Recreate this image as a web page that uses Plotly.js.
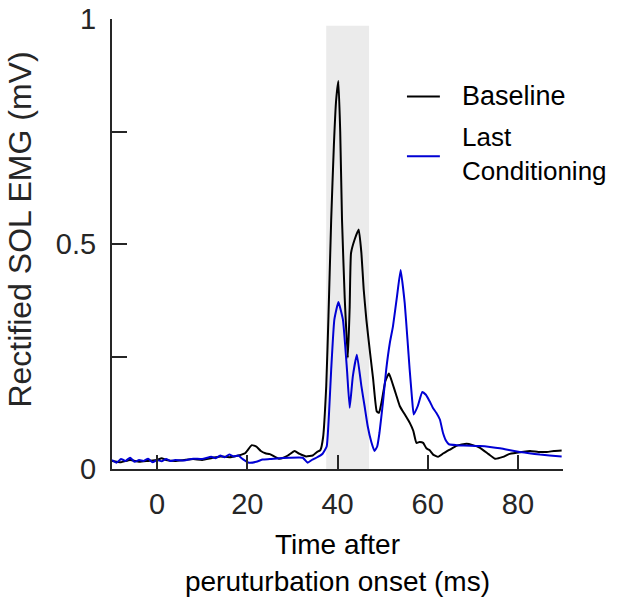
<!DOCTYPE html>
<html>
<head>
<meta charset="utf-8">
<script src="https://cdn.plot.ly/plotly-3.0.1.min.js"></script>
<style>html,body{margin:0;padding:0;background:#fff;}#chart{width:623px;height:604px;}</style>
</head>
<body>
<div id="chart"></div>
<script>
// Baseline series (time in ms, EMG in mV)
var timeBaseline = [-10,-8,-6,-4,-2,0,1,2,4,6,8,10,12,14,16,18,19.5,21,22,23,24,25,27,28,29,30.5,31.5,33,34.5,35.5,36.2,36.8,37.5,38,38.6,39.2,39.7,40.2,40.6,41,41.6,42.3,42.7,43,43.8,44.7,45.3,45.8,46.4,47.2,47.9,48.7,49.2,49.8,50.6,51.4,52.2,53,53.8,54.5,55.3,56,56.8,57.5,58.2,59,59.7,60.4,61.2,62.3,63.5,64.9,66.5,68.6,70,71.6,73.5,74.9,76.7,78,79.7,82.7,84.5,86.4,88,89.7];
var emgBaseline = [0.018,0.015,0.02,0.016,0.018,0.02,0.024,0.02,0.018,0.02,0.022,0.02,0.024,0.028,0.026,0.03,0.035,0.053,0.05,0.04,0.035,0.033,0.023,0.025,0.03,0.04,0.034,0.028,0.03,0.038,0.042,0.07,0.184,0.34,0.554,0.72,0.82,0.862,0.75,0.554,0.38,0.247,0.36,0.48,0.51,0.532,0.48,0.4,0.332,0.26,0.2,0.128,0.125,0.15,0.195,0.212,0.19,0.165,0.14,0.128,0.115,0.103,0.085,0.058,0.06,0.058,0.046,0.042,0.032,0.027,0.035,0.043,0.052,0.056,0.053,0.047,0.033,0.023,0.027,0.033,0.036,0.04,0.038,0.038,0.04,0.041];

// Last Conditioning series
var timeLast = [-10,-9,-8,-7,-6,-5,-4,-3,-2,-1,0,1,2,3,4,6,8,10,12,13,14,15,16,17,18,19,20.4,22,23.4,25,27,29.3,32.3,33.4,34.3,35.3,36.7,37.6,38.1,38.6,39.3,40.2,41.2,42.1,42.7,43.4,44.3,45.3,46,46.7,47.5,48.2,48.8,49.3,50.1,50.8,51.6,52.3,53.2,54,54.9,55.5,56,56.5,56.9,57.8,58.8,59.6,60.4,61.2,61.9,62.7,63.4,64.1,64.7,66.4,68,71.6,73.8,76,78,80.4,82.5,84.9,87,89.7];
var emgLast = [0.02,0.014,0.022,0.018,0.025,0.016,0.02,0.018,0.023,0.015,0.02,0.017,0.022,0.018,0.02,0.019,0.023,0.022,0.027,0.024,0.03,0.026,0.032,0.028,0.03,0.022,0.014,0.016,0.021,0.022,0.024,0.025,0.025,0.014,0.02,0.025,0.034,0.05,0.12,0.221,0.332,0.371,0.332,0.221,0.136,0.206,0.254,0.184,0.14,0.095,0.06,0.04,0.05,0.08,0.15,0.221,0.28,0.317,0.384,0.442,0.369,0.29,0.221,0.16,0.121,0.14,0.171,0.165,0.151,0.135,0.125,0.11,0.08,0.062,0.055,0.053,0.052,0.051,0.049,0.046,0.042,0.038,0.035,0.032,0.03,0.028];

var seriesNames = ['Baseline', 'Last<br>Conditioning'];
var shadeWindow = [37.5, 47];
var xTicks = [0, 20, 40, 60, 80];
var yTicks = [0, 0.25, 0.5, 0.75, 1];
var yTickText = ['0', '', '0.5', '', '1'];

var font = 'Arial, "Liberation Sans", Helvetica, sans-serif';
var axisColor = '#262626';

var traces = [
  {x: timeBaseline, y: emgBaseline, type: 'scatter', mode: 'lines', name: 'Baseline',
   line: {color: '#000000', width: 2, shape: 'spline', smoothing: 0.4}, showlegend: false, hoverinfo: 'skip'},
  {x: timeLast, y: emgLast, type: 'scatter', mode: 'lines', name: 'Last Conditioning',
   line: {color: '#0000d4', width: 2, shape: 'spline', smoothing: 0.4}, showlegend: false, hoverinfo: 'skip'}
];

var layout = {
  width: 623, height: 604,
  margin: {l: 112, r: 60, t: 19, b: 135},
  paper_bgcolor: '#ffffff', plot_bgcolor: '#ffffff',
  font: {family: font, color: '#262626'},
  xaxis: {
    range: [-10, 90], tickvals: xTicks, ticks: 'inside', ticklen: 14, tickwidth: 2, tickcolor: axisColor,
    showline: true, linecolor: axisColor, linewidth: 2, showgrid: false, zeroline: false,
    tickfont: {size: 29, family: font, color: '#262626'}, ticklabelstandoff: 8,
    title: {text: 'Time after<br>peruturbation onset (ms)', font: {size: 28, family: font, color: '#000'}, standoff: 16}
  },
  yaxis: {
    range: [0, 1], tickvals: yTicks, ticktext: yTickText, ticks: 'inside', ticklen: 15, tickwidth: 2, tickcolor: axisColor,
    showline: true, linecolor: axisColor, linewidth: 2, showgrid: false, zeroline: false,
    tickfont: {size: 29, family: font, color: '#262626'}, ticklabelstandoff: 8
  },
  shapes: [
    {type: 'rect', xref: 'x', yref: 'y', x0: shadeWindow[0], x1: shadeWindow[1], y0: 0, y1: 0.985,
     fillcolor: '#ebebeb', line: {width: 0}, layer: 'below'},
    {type: 'line', xref: 'paper', yref: 'paper', x0: 0.654, x1: 0.727, y0: 0.828, y1: 0.828,
     line: {color: '#000000', width: 2}},
    {type: 'line', xref: 'paper', yref: 'paper', x0: 0.654, x1: 0.727, y0: 0.695, y1: 0.695,
     line: {color: '#0000d4', width: 2}}
  ],
  annotations: [
    {xref: 'paper', yref: 'paper', x: -0.204, y: 0.532, xanchor: 'center', yanchor: 'middle', showarrow: false,
     textangle: -90, text: 'Rectified SOL EMG (mV)', font: {size: 32, family: font, color: '#262626'}},
    {xref: 'paper', yref: 'paper', x: 0.772, y: 0.828, xanchor: 'left', yanchor: 'middle', showarrow: false,
     text: seriesNames[0], font: {size: 27, family: font, color: '#000'}},
    {xref: 'paper', yref: 'paper', x: 0.772, y: 0.701, xanchor: 'left', yanchor: 'middle', showarrow: false, align: 'left',
     text: seriesNames[1], font: {size: 26, family: font, color: '#000'}}
  ]
};

Plotly.newPlot('chart', traces, layout, {staticPlot: true, displayModeBar: false});
</script>
</body>
</html>
